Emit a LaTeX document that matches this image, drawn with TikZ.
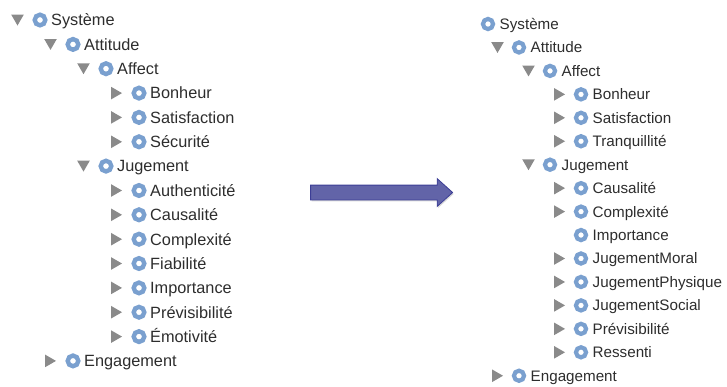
\documentclass[tikz,border=0pt]{standalone}
\usepackage{fontspec}
\setmainfont{Liberation Sans}
\usepackage{tikz}
\usetikzlibrary{shapes.geometric, shapes.arrows, shadows}

\definecolor{ringblue}{RGB}{122,160,207}
\definecolor{trigray}{RGB}{138,138,138}
\definecolor{txtgray}{RGB}{45,45,45}
\definecolor{arrowfill}{RGB}{98,100,168}
\definecolor{arrowline}{RGB}{60,62,150}

\begin{document}
\begin{tikzpicture}[x=1pt, y=-1pt,
    tri/.style={regular polygon, regular polygon sides=3, fill=trigray, minimum size=14.5pt, inner sep=0pt},
    tridown/.style={tri, shape border rotate=180},
    triright/.style={tri, shape border rotate=-90},
    ringA/.style={circle, draw=ringblue, fill=white, line width=4.4pt, minimum size=10.6pt, inner sep=0pt},
    ringB/.style={circle, draw=ringblue, fill=white, line width=4.2pt, minimum size=10.1pt, inner sep=0pt},
    lblA/.style={anchor=base west, inner sep=0pt, text=txtgray, font=\fontsize{16.3}{18}\selectfont},
    lblB/.style={anchor=base west, inner sep=0pt, text=txtgray, font=\fontsize{15.2}{17}\selectfont}]
    \useasboundingbox (0,0) rectangle (727,386);

    % Old hierarchy (left)
    \node[tridown] (SYSAt) at (17.5,18.25) {};
    \node[ringA] (SYSAo) at (40,20) {};
    \node[lblA] (SYSA) at (51,25.85) {Système};

    \node[tridown] (ATTAt) at (50.5,42.65) {};
    \node[ringA] (ATTAo) at (73,44.4) {};
    \node[lblA] (ATTA) at (84,50.25) {Attitude};

    \node[tridown] (AFFAt) at (83.5,66.95) {};
    \node[ringA] (AFFAo) at (106,68.7) {};
    \node[lblA] (AFFA) at (117,74.55) {Affect};

    \node[triright] (BONAt) at (114.75,93.1) {};
    \node[ringA] (BONAo) at (139,93.1) {};
    \node[lblA] (BONA) at (150,98.95) {Bonheur};

    \node[triright] (SATAt) at (114.75,117.4) {};
    \node[ringA] (SATAo) at (139,117.4) {};
    \node[lblA] (SATA) at (150,123.25) {Satisfaction};

    \node[triright] (SECAt) at (114.75,141.8) {};
    \node[ringA] (SECAo) at (139,141.8) {};
    \node[lblA] (SECA) at (150,147.65) {Sécurité};

    \node[tridown] (JUGAt) at (83.5,164.35) {};
    \node[ringA] (JUGAo) at (106,166.1) {};
    \node[lblA] (JUGA) at (117,171.95) {Jugement};

    \node[triright] (AUTAt) at (114.75,190.5) {};
    \node[ringA] (AUTAo) at (139,190.5) {};
    \node[lblA] (AUTA) at (150,196.35) {Authenticité};

    \node[triright] (CAUAt) at (114.75,214.8) {};
    \node[ringA] (CAUAo) at (139,214.8) {};
    \node[lblA] (CAUA) at (150,220.65) {Causalité};

    \node[triright] (COMAt) at (114.75,239.2) {};
    \node[ringA] (COMAo) at (139,239.2) {};
    \node[lblA] (COMA) at (150,245.05) {Complexité};

    \node[triright] (FIAAt) at (114.75,263.5) {};
    \node[ringA] (FIAAo) at (139,263.5) {};
    \node[lblA] (FIAA) at (150,269.35) {Fiabilité};

    \node[triright] (IMPAt) at (114.75,287.9) {};
    \node[ringA] (IMPAo) at (139,287.9) {};
    \node[lblA] (IMPA) at (150,293.75) {Importance};

    \node[triright] (PREAt) at (114.75,312.2) {};
    \node[ringA] (PREAo) at (139,312.2) {};
    \node[lblA] (PREA) at (150,318.05) {Prévisibilité};

    \node[triright] (EMOAt) at (114.75,336.6) {};
    \node[ringA] (EMOAo) at (139,336.6) {};
    \node[lblA] (EMOA) at (150,342.45) {Émotivité};

    \node[triright] (ENGAt) at (48.75,360.9) {};
    \node[ringA] (ENGAo) at (73,360.9) {};
    \node[lblA] (ENGA) at (84,366.75) {Engagement};

    % Transformation arrow
    \node[single arrow, fill=arrowfill, draw=arrowline, line width=0.8pt,
          minimum height=142pt, single arrow head extend=6.5pt,
          single arrow tip angle=84, inner xsep=0pt, inner ysep=7pt,
          drop shadow={shadow xshift=1pt, shadow yshift=-1.5pt, opacity=0.3}] (MAP) at (377.5,192.5) {};

    % New hierarchy (right)
    \node[ringB] (SYSBo) at (488,24) {};
    \node[lblB] (SYSB) at (499.5,29.4) {Système};

    \node[tridown] (ATTBt) at (497.5,45.7) {};
    \node[ringB] (ATTBo) at (519,47.45) {};
    \node[lblB] (ATTB) at (530.5,52.85) {Attitude};

    \node[tridown] (AFFBt) at (528.5,69.15) {};
    \node[ringB] (AFFBo) at (550,70.9) {};
    \node[lblB] (AFFB) at (561.5,76.3) {Affect};

    \node[triright] (BONBt) at (557.75,94.35) {};
    \node[ringB] (BONBo) at (581,94.35) {};
    \node[lblB] (BONB) at (592.5,99.75) {Bonheur};

    \node[triright] (SATBt) at (557.75,117.8) {};
    \node[ringB] (SATBo) at (581,117.8) {};
    \node[lblB] (SATB) at (592.5,123.2) {Satisfaction};

    \node[triright] (TRABt) at (557.75,141.25) {};
    \node[ringB] (TRABo) at (581,141.25) {};
    \node[lblB] (TRAB) at (592.5,146.65) {Tranquillité};

    \node[tridown] (JUGBt) at (528.5,162.95) {};
    \node[ringB] (JUGBo) at (550,164.7) {};
    \node[lblB] (JUGB) at (561.5,170.1) {Jugement};

    \node[triright] (CAUBt) at (557.75,188.15) {};
    \node[ringB] (CAUBo) at (581,188.15) {};
    \node[lblB] (CAUB) at (592.5,193.55) {Causalité};

    \node[triright] (COMBt) at (557.75,211.6) {};
    \node[ringB] (COMBo) at (581,211.6) {};
    \node[lblB] (COMB) at (592.5,217) {Complexité};

    \node[ringB] (IMPBo) at (581,235.05) {};
    \node[lblB] (IMPB) at (592.5,240.45) {Importance};

    \node[triright] (MORBt) at (557.75,258.5) {};
    \node[ringB] (MORBo) at (581,258.5) {};
    \node[lblB] (MORB) at (592.5,263.9) {JugementMoral};

    \node[triright] (PHYBt) at (557.75,281.95) {};
    \node[ringB] (PHYBo) at (581,281.95) {};
    \node[lblB] (PHYB) at (592.5,287.35) {JugementPhysique};

    \node[triright] (SOCBt) at (557.75,305.4) {};
    \node[ringB] (SOCBo) at (581,305.4) {};
    \node[lblB] (SOCB) at (592.5,310.8) {JugementSocial};

    \node[triright] (PREBt) at (557.75,328.85) {};
    \node[ringB] (PREBo) at (581,328.85) {};
    \node[lblB] (PREB) at (592.5,334.25) {Prévisibilité};

    \node[triright] (RESBt) at (557.75,352.3) {};
    \node[ringB] (RESBo) at (581,352.3) {};
    \node[lblB] (RESB) at (592.5,357.7) {Ressenti};

    \node[triright] (ENGBt) at (495.75,375.75) {};
    \node[ringB] (ENGBo) at (519,375.75) {};
    \node[lblB] (ENGB) at (530.5,381.15) {Engagement};
\end{tikzpicture}
\end{document}
